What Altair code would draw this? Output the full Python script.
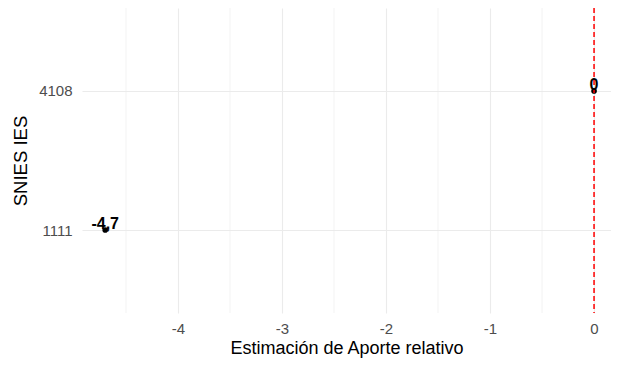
import altair as alt
import pandas as pd

ies = ["1111", "4108"]
aporte = [-4.7, 0.0]
etiquetas = ["-4,7", "0"]
x_ticks = [-4, -3, -2, -1, 0]
x_minor = [-4.5, -3.5, -2.5, -1.5, -0.5]
ref_line = [0]

df = pd.DataFrame({"ies": ies, "aporte": aporte, "lab": etiquetas})
minor_df = pd.DataFrame({"m": x_minor})
ref_df = pd.DataFrame({"r": ref_line})

FONT = "Liberation Sans"
xdom = [-4.923, 0.163]
xscale = alt.Scale(domain=xdom, nice=False, zero=False)
yscale = alt.Scale(domain=["4108", "1111"], padding=0.597)

points = alt.Chart(df).mark_point(filled=True, color="black", size=32, opacity=1).encode(
    x=alt.X(
        "aporte:Q",
        scale=xscale,
        title="Estimación de Aporte relativo",
        axis=alt.Axis(
            values=x_ticks,
            labelExpr="datum.value < 0 ? '-' + abs(datum.value) : '' + datum.value",
            grid=True,
            gridColor="#EBEBEB",
            gridWidth=1.1,
            domain=False,
            ticks=False,
            tickSize=0,
            labelPadding=8,
            labelFontSize=15,
            labelColor="#4D4D4D",
            labelFont=FONT,
            titleFont=FONT,
            titleFontSize=18,
            titleFontWeight="normal",
            titleColor="black",
            titleY=40,
            titleBaseline="alphabetic",
        ),
    ),
    y=alt.Y(
        "ies:N",
        scale=yscale,
        sort=["4108", "1111"],
        title="SNIES IES",
        axis=alt.Axis(
            grid=True,
            gridColor="#EBEBEB",
            gridWidth=1.1,
            domain=False,
            ticks=False,
            tickSize=0,
            labelPadding=10,
            labelFontSize=15,
            labelColor="#4D4D4D",
            labelFont=FONT,
            titleFont=FONT,
            titleFontSize=18.5,
            titleFontWeight="normal",
            titleColor="black",
            titleX=-62,
            titleBaseline="middle",
        ),
    ),
)

minor = alt.Chart(minor_df).mark_rule(color="#EBEBEB", strokeWidth=0.6).encode(
    x=alt.X("m:Q", scale=xscale)
)

rule = alt.Chart(ref_df).mark_rule(color="#FF0000", strokeWidth=1.5, strokeDash=[5, 3]).encode(
    x=alt.X("r:Q", scale=xscale)
)

text = alt.Chart(df).mark_text(
    font=FONT, fontSize=16, fontWeight="bold", color="black", baseline="alphabetic", dy=-1
).encode(
    x=alt.X("aporte:Q", scale=xscale),
    y=alt.Y("ies:N", scale=yscale, sort=["4108", "1111"]),
    text="lab:N",
)

chart = (
    alt.layer(points, minor, rule, text)
    .properties(
        width=529,
        height=305,
        autosize=alt.AutoSizeParams(type="none"),
        padding={"left": 74, "top": 0, "right": 0, "bottom": 46},
        background="white",
    )
    .configure_view(stroke=None)
)

chart.save("out.html", embed_options={"renderer": "svg", "actions": False})
